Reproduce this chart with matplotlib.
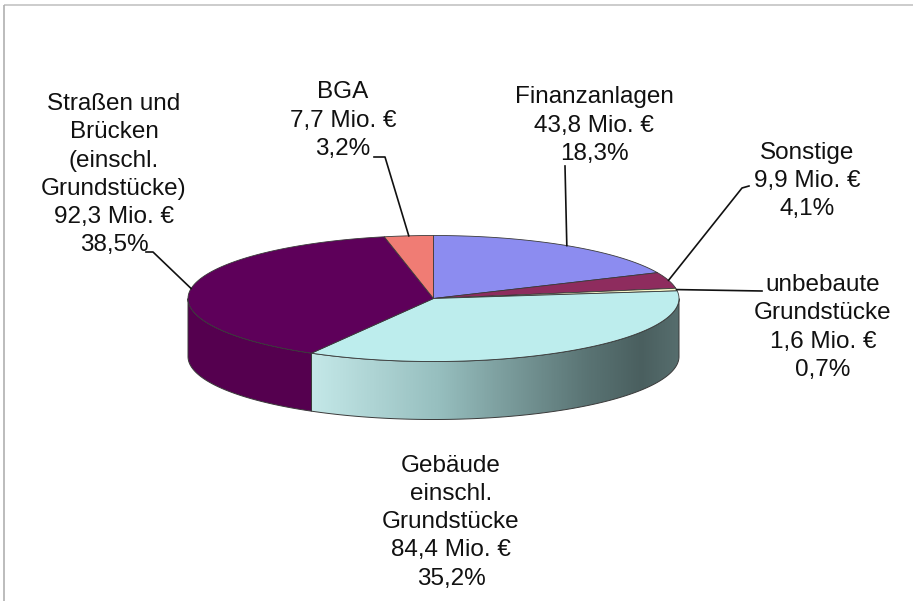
import numpy as np
import matplotlib
matplotlib.use("Agg")
import matplotlib.pyplot as plt
from matplotlib.patches import Polygon
from matplotlib.colors import LinearSegmentedColormap

# ---------------- data ----------------
categories = ["Finanzanlagen", "Sonstige", "unbebaute\nGrundstücke",
              "Gebäude\neinschl.\nGrundstücke",
              "Straßen und\nBrücken\n(einschl.\nGrundstücke)", "BGA"]
values_mio = [43.8, 9.9, 1.6, 84.4, 92.3, 7.7]
value_labels = ["43,8", "9,9", "1,6", "84,4", "92,3", "7,7"]
percent_labels = ["18,3%", "4,1%", "0,7%", "35,2%", "38,5%", "3,2%"]
top_colors = ["#8C8CF0", "#8E2C5E", "#F6F6C8", "#BDEDED", "#5E005A", "#F07C74"]
side_colors = ["#7070C8", "#6E2048", "#D0D0A0", None, "#55004F", "#C86058"]

# label layout: centre x and first baseline y (pixels), leader bends
label_pos = [(594, 103.5), (807, 158.5), (823, 291), (451, 471.5), (114, 110), (343, 98.5)]
line_step = 28.3
leader_start = [[(565, 166)], [(749, 186), (742, 188)], [(762, 291)], None,
                [(146, 252), (153, 252)], [(374, 157), (385, 157)]]

# ---------------- geometry ----------------
W, H = 913, 601
cx, cy, rx, ry, depth = 433.5, 298.5, 245.5, 63.0, 58.0

def pt(theta, z=0.0):
    t = np.radians(theta)
    return cx + rx * np.sin(t), cy - ry * np.cos(t) + z

fig = plt.figure(figsize=(W / 100, H / 100), dpi=100)
ax = fig.add_axes([0, 0, 1, 1])
ax.set_xlim(0, W)
ax.set_ylim(H, 0)
ax.axis("off")

# frame lines
ax.plot([4, W], [5, 5], color="#C4C4C4", lw=1.2, solid_capstyle="butt")
ax.plot([4, 4], [5, H], color="#B0B0B0", lw=1.2, solid_capstyle="butt")

total = sum(values_mio)
bounds = np.concatenate([[0], np.cumsum(values_mio)]) / total * 360.0

edge = "#3A3A3A"
cmap_side = LinearSegmentedColormap.from_list(
    "side", [(0.0, "#C4E8E8"), (0.35, "#96BEBE"), (0.75, "#5A7474"), (0.9, "#4A5F5F"), (1.0, "#566D6D")])

# side walls (front half: 90..270 deg)
for i in range(len(values_mio)):
    a0, a1 = max(bounds[i], 90.0), min(bounds[i + 1], 270.0)
    if a1 <= a0:
        continue
    th = np.linspace(a0, a1, 200)
    top = [pt(t) for t in th]
    bot = [pt(t, depth) for t in th[::-1]]
    poly = np.array(top + bot)
    if side_colors[i] is None:
        patch = Polygon(poly, closed=True, facecolor="none", edgecolor=edge, lw=0.7, zorder=3)
        ax.add_patch(patch)
        xs = poly[:, 0]
        grad = np.linspace(0, 1, 400).reshape(1, -1)
        im = ax.imshow(grad, cmap=cmap_side, aspect="auto",
                       extent=(xs.min(), cx + rx, cy + ry + depth + 2, cy - 5),
                       zorder=2, interpolation="bilinear")
        im.set_clip_path(patch)
    else:
        ax.add_patch(Polygon(poly, closed=True, facecolor=side_colors[i],
                             edgecolor=edge, lw=0.7, zorder=2))

# top faces
for i in range(len(values_mio)):
    th = np.linspace(bounds[i], bounds[i + 1], 200)
    poly = np.array([(cx, cy)] + [pt(t) for t in th])
    ax.add_patch(Polygon(poly, closed=True, facecolor=top_colors[i],
                         edgecolor=edge, lw=0.6, zorder=4))

# labels and leader lines
for i, cat in enumerate(categories):
    lines = cat.split("\n") + [f"{value_labels[i]} Mio. €", percent_labels[i]]
    x, y0 = label_pos[i]
    for k, line in enumerate(lines):
        ax.text(x, y0 + k * line_step, line, ha="center", va="baseline", fontsize=17.5,
                family="Liberation Sans", color="#111111", zorder=6)
    if leader_start[i] is not None:
        mid = (bounds[i] + bounds[i + 1]) / 2.0
        ex, ey = pt(mid)
        pts = leader_start[i] + [(ex, ey)]
        ax.plot([p[0] for p in pts], [p[1] for p in pts], color="#111111", lw=1.2, zorder=5)

fig.savefig("out.png", dpi=100, facecolor="white")
